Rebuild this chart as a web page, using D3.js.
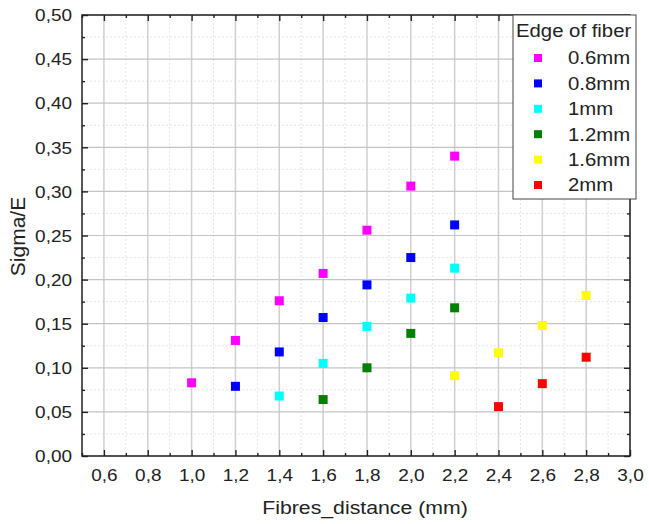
<!DOCTYPE html>
<html><head><meta charset="utf-8">
<script src="https://cdn.jsdelivr.net/npm/d3@7"></script>
<style>body{margin:0;background:#fff;} text{font-family:"Liberation Sans",Arial,sans-serif;fill:#222;}</style>
</head><body><svg id="c" width="649" height="524"></svg>
<script>
const seriesNames = ["0.6mm","0.8mm","1mm","1.2mm","1.6mm","2mm"];
const seriesColors = ["#ff00ff","#0000ff","#00ffff","#008000","#ffff00","#ff0000"];
const x06 = [1.0,1.2,1.4,1.6,1.8,2.0,2.2];
const y06 = [0.083,0.131,0.176,0.207,0.256,0.306,0.340];
const x08 = [1.2,1.4,1.6,1.8,2.0,2.2];
const y08 = [0.079,0.118,0.157,0.194,0.225,0.262];
const x10 = [1.4,1.6,1.8,2.0,2.2];
const y10 = [0.068,0.105,0.147,0.179,0.213];
const x12 = [1.6,1.8,2.0,2.2];
const y12 = [0.064,0.100,0.139,0.168];
const x16 = [2.2,2.4,2.6,2.8];
const y16 = [0.091,0.117,0.148,0.182];
const x20 = [2.4,2.6,2.8];
const y20 = [0.056,0.082,0.112];
const xTicks = [0.6,0.8,1.0,1.2,1.4,1.6,1.8,2.0,2.2,2.4,2.6,2.8,3.0];
const yTicks = [0.00,0.05,0.10,0.15,0.20,0.25,0.30,0.35,0.40,0.45,0.50];
const xLabel = "Fibres_distance (mm)";
const yLabel = "Sigma/E";
const legendTitle = "Edge of fiber";

const xs = [x06,x08,x10,x12,x16,x20], ys = [y06,y08,y10,y12,y16,y20];
const series = seriesNames.map((n,i)=>({name:n,color:seriesColors[i],pts:xs[i].map((xv,j)=>({x:xv,y:ys[i][j]}))}));

const L=82,R=630,T=15,B=456;
const SX=1.15;
const svg=d3.select("#c");
const x=d3.scaleLinear().domain([0.5,3.0]).range([L,R]);
const y=d3.scaleLinear().domain([0,0.5]).range([B,T]);
const fmt=v=>d3.format(".1f")(v).replace(".",",");
const fmtY=v=>d3.format(".2f")(v).replace(".",",");
const xMinor=d3.range(0.5,3.0001,0.1).filter(v=>!xTicks.some(t=>Math.abs(t-v)<1e-6));
const yMinor=d3.range(0.025,0.5,0.05);

const g=svg.append("g");
g.selectAll(".mgx").data(xMinor).join("line").attr("x1",d=>x(d)).attr("x2",d=>x(d)).attr("y1",T).attr("y2",B)
 .attr("stroke","#e4e4e4").attr("stroke-width",1).attr("stroke-dasharray","2,2");
g.selectAll(".mgy").data(yMinor).join("line").attr("y1",d=>y(d)).attr("y2",d=>y(d)).attr("x1",L).attr("x2",R)
 .attr("stroke","#e4e4e4").attr("stroke-width",1).attr("stroke-dasharray","2,2");
g.selectAll(".gx").data(xTicks).join("line").attr("x1",d=>x(d)).attr("x2",d=>x(d)).attr("y1",T).attr("y2",B)
 .attr("stroke","#cfcfcf").attr("stroke-width",1.5);
g.selectAll(".gy").data(yTicks).join("line").attr("y1",d=>y(d)).attr("y2",d=>y(d)).attr("x1",L).attr("x2",R)
 .attr("stroke","#c4c4c4").attr("stroke-width",1.2);

function axisTicks(axisFn, scale, pos, vals, len){
  const a=axisFn(scale).tickValues(vals).tickSize(len).tickFormat("");
  const ag=svg.append("g").attr("transform",pos).call(a);
  ag.select(".domain").remove();
  ag.selectAll("line").attr("stroke","#222").attr("stroke-width",1.4);
  return ag;
}
axisTicks(d3.axisTop,x,`translate(0,${B})`,xTicks,6);
axisTicks(d3.axisTop,x,`translate(0,${B})`,xMinor,3);
axisTicks(d3.axisBottom,x,`translate(0,${T})`,xTicks,6);
axisTicks(d3.axisBottom,x,`translate(0,${T})`,xMinor,3);
axisTicks(d3.axisRight,y,`translate(${L},0)`,yTicks,6);
axisTicks(d3.axisRight,y,`translate(${L},0)`,yMinor,3);
axisTicks(d3.axisLeft,y,`translate(${R},0)`,yTicks,6);
axisTicks(d3.axisLeft,y,`translate(${R},0)`,yMinor,3);

const xl=svg.append("g").attr("transform",`translate(0,${B})`).call(d3.axisBottom(x).tickValues(xTicks).tickSize(0).tickPadding(0).tickFormat(fmt));
xl.select(".domain").remove();
xl.selectAll("text").attr("y",0).attr("dy",0).attr("transform","translate(0,25) scale("+SX+",1)")
  .style("font-size","16.5px").style("font-family","Liberation Sans, Arial, sans-serif").attr("fill","#222");
const yl=svg.append("g").attr("transform",`translate(${L},0)`).call(d3.axisLeft(y).tickValues(yTicks).tickSize(0).tickPadding(0).tickFormat(fmtY));
yl.select(".domain").remove();
yl.selectAll("text").attr("x",0).attr("dy","0.35em").attr("transform","translate(-10,0) scale("+SX+",1)")
  .style("font-size","16.5px").style("font-family","Liberation Sans, Arial, sans-serif").attr("fill","#222");

svg.append("rect").attr("x",L).attr("y",T).attr("width",R-L).attr("height",B-T).attr("fill","none").attr("stroke","#222").attr("stroke-width",1.5);

svg.append("text").attr("transform",`translate(${(L+R)/2+9},514) scale(${SX},1)`).attr("text-anchor","middle")
  .style("font-size","18.5px").text(xLabel);
svg.append("text").attr("transform",`translate(25,${(T+B)/2+1}) rotate(-90)`).attr("text-anchor","middle")
  .style("font-size","21px").text(yLabel);

const ms=9;
series.forEach(s=>{
  svg.append("g").selectAll("rect").data(s.pts).join("rect")
    .attr("x",d=>x(d.x)-ms/2).attr("y",d=>y(d.y)-ms/2).attr("width",ms).attr("height",ms)
    .attr("fill",s.color);
});

const lg=svg.append("g");
lg.append("rect").attr("x",513).attr("y",15).attr("width",123).attr("height",184).attr("fill","#fff").attr("stroke","#444").attr("stroke-width",1);
lg.append("text").attr("transform",`translate(516,37) scale(1.13,1)`).style("font-size","18px").text(legendTitle);
series.forEach((s,i)=>{
  const cy=58+i*25.4;
  lg.append("rect").attr("x",538-4).attr("y",cy-4).attr("width",8).attr("height",8).attr("fill",s.color);
  lg.append("text").attr("transform",`translate(568,${cy}) scale(1.13,1)`).attr("dy","0.35em").style("font-size","18px").text(s.name);
});
</script></body></html>
